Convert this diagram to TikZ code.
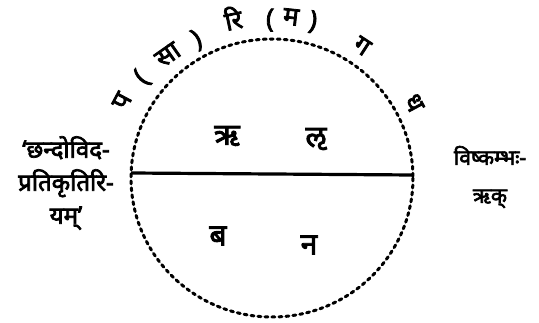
\documentclass[tikz,border=0pt]{standalone}
\usepackage{fontspec}
\newfontfamily\deva[Script=Devanagari,FakeBold=3]{Noto Sans}
\begin{document}
\begin{tikzpicture}[x=1pt,y=-1pt,
  lbl/.style={font=\deva\fontsize{30}{32}\selectfont, inner sep=0pt},
  arcl/.style={font=\deva\fontsize{26}{28}\selectfont, inner sep=0pt},
  sidel/.style={font=\deva\fontsize{24}{33}\selectfont, inner sep=0pt, align=center},
  sider/.style={font=\deva\fontsize{21}{38}\selectfont, inner sep=0pt, align=center}]
\useasboundingbox (0,0) rectangle (539,323);
\coordinate (c) at (272,178);
\draw[line width=3pt, dash pattern=on 3pt off 4pt, line cap=round] (c) ellipse [x radius=141, y radius=139];
\coordinate (l) at (131,173);
\coordinate (r) at (413,175);
\draw[line width=3.2pt] (l) -- (r);
% arc letters
\node[arcl, rotate=62] (p) at (122,101) {प};
\node[arcl, rotate=48] (o1) at (142,78) {(};
\node[arcl, rotate=35] (sa) at (168,55) {सा};
\node[arcl, rotate=25] (c1) at (197,40) {)};
\node[arcl, rotate=12] (ri) at (233,18) {रि};
\node[arcl, rotate=-2] (o2) at (270,20) {(};
\node[arcl, rotate=-6] (ma) at (291,17) {म};
\node[arcl, rotate=-10] (c2) at (313,22) {)};
\node[arcl, rotate=-33] (ga) at (362,46) {ग};
\node[arcl, rotate=-62] (dha) at (414,103) {ध};
% inner letters
\node[lbl] (tl) at (227,136) {ऋ};
\node[lbl] (tr) at (316,139) {ऌ};
\node[lbl] (bl) at (218,236) {ब};
\node[lbl] (br) at (309,245) {न};
% side texts
\node[sidel] (left) at (66,183) {‘छन्दोविद-\\प्रतिकृतिरि-\\यम्’};
\node[sider] (right) at (490,177) {विष्कम्भः-\\ऋक्};
\end{tikzpicture}
\end{document}
